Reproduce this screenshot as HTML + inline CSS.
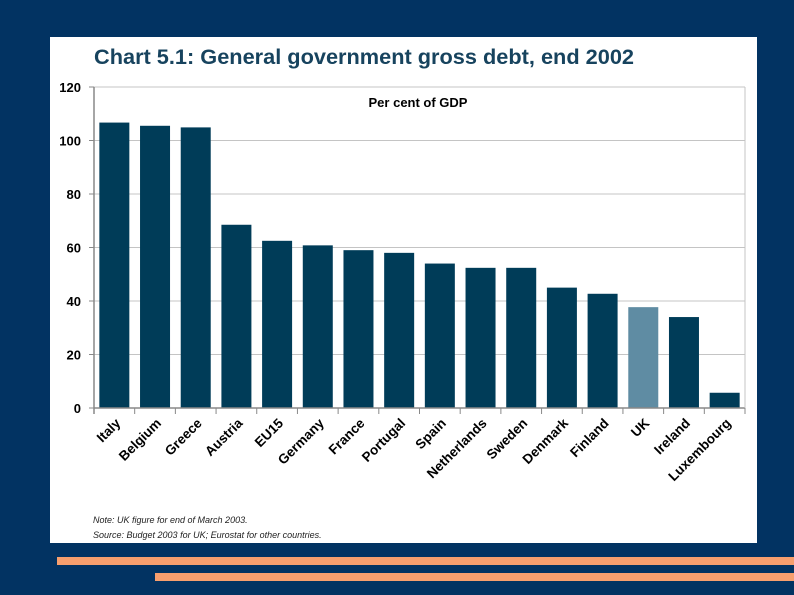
<!DOCTYPE html>
<html><head><meta charset="utf-8"><style>
html,body{margin:0;padding:0;background:#023362;width:794px;height:595px;overflow:hidden;font-family:"Liberation Sans",sans-serif}
</style></head><body>
<svg width="794" height="595" xmlns="http://www.w3.org/2000/svg">
<rect x="0" y="0" width="794" height="595" fill="#023362"/>
<rect x="50" y="37" width="707" height="506" fill="#ffffff"/>
<rect x="57" y="557" width="737" height="8" fill="#f79f6e"/>
<rect x="155" y="573" width="639" height="8" fill="#f79f6e"/>
<text x="94" y="64" font-size="21.5" font-weight="bold" fill="#17435e" textLength="540" lengthAdjust="spacingAndGlyphs">Chart 5.1: General government gross debt, end 2002</text>
<text x="418" y="107" font-size="13" font-weight="bold" fill="#000" text-anchor="middle">Per cent of GDP</text>
<g id="grid"></g><g id="bars"></g><g id="axes"></g>
<text x="93" y="523" font-size="9" font-style="italic" fill="#222">Note: UK figure for end of March 2003.</text>
<text x="93" y="538" font-size="9" font-style="italic" fill="#222">Source: Budget 2003 for UK; Eurostat for other countries.</text>
</svg>
<script>
const categories=["Italy","Belgium","Greece","Austria","EU15","Germany","France","Portugal","Spain","Netherlands","Sweden","Denmark","Finland","UK","Ireland","Luxembourg"];
const values=[106.7,105.5,104.9,68.5,62.5,60.8,59,58,54,52.4,52.4,45,42.7,37.7,34,5.7];
const yTicks=[0,20,40,60,80,100,120];
const NS="http://www.w3.org/2000/svg";
const X0=94,X1=745,Y0=408,Y1=87,YMAX=120;
const y=v=>Y0-(v/YMAX)*(Y0-Y1);
const step=(X1-X0)/categories.length;
const x=i=>X0+i*step;
function mk(t,a,p){const e=document.createElementNS(NS,t);for(const k in a)e.setAttribute(k,a[k]);p.appendChild(e);return e;}
const grid=document.getElementById('grid'),bars=document.getElementById('bars'),axes=document.getElementById('axes');
yTicks.forEach(t=>{
  if(t>0){const g=mk('line',{x1:X0,x2:X1,y1:y(t),y2:y(t),stroke:'#c4c4c4','stroke-width':1},grid);
  
  }
  const tk=mk('line',{x1:X0-5,x2:X0,y1:y(t),y2:y(t),stroke:'#888','stroke-width':1},axes);
  
  
  const l=mk('text',{x:X0-13,y:y(t)+5,'font-size':13,'font-weight':'bold','text-anchor':'end',fill:'#000'},axes);
  l.textContent=t;
  
  
});
const ya=mk('line',{x1:X0,x2:X0,y1:Y1,y2:Y0+6,stroke:'#888','stroke-width':1.5},axes);


const xa=mk('line',{x1:X0,x2:X1,y1:Y0,y2:Y0,stroke:'#888','stroke-width':1.5},axes);


const ra=mk('line',{x1:X1,x2:X1,y1:Y1,y2:Y0,stroke:'#c4c4c4','stroke-width':1},axes);


for(let i=0;i<=categories.length;i++){
  const t=mk('line',{x1:x(i),x2:x(i),y1:Y0,y2:Y0+6,stroke:'#888','stroke-width':1},axes);
  
  
}
const bw=30;
categories.forEach((c,i)=>{
  const cx=x(i)+step/2;
  const b=mk('rect',{x:cx-bw/2,y:y(values[i]),width:bw,height:Y0-y(values[i]),fill:c==='UK'?'#5f8ca3':'#003c58'},bars);
  
  
  const l=mk('text',{x:cx+7,y:Y0+16,'font-size':13.5,'font-weight':'bold','text-anchor':'end',fill:'#000',transform:`rotate(-45 ${cx+7} ${Y0+16})`},axes);
  l.textContent=c;
  
  
});
</script>
</body></html>
